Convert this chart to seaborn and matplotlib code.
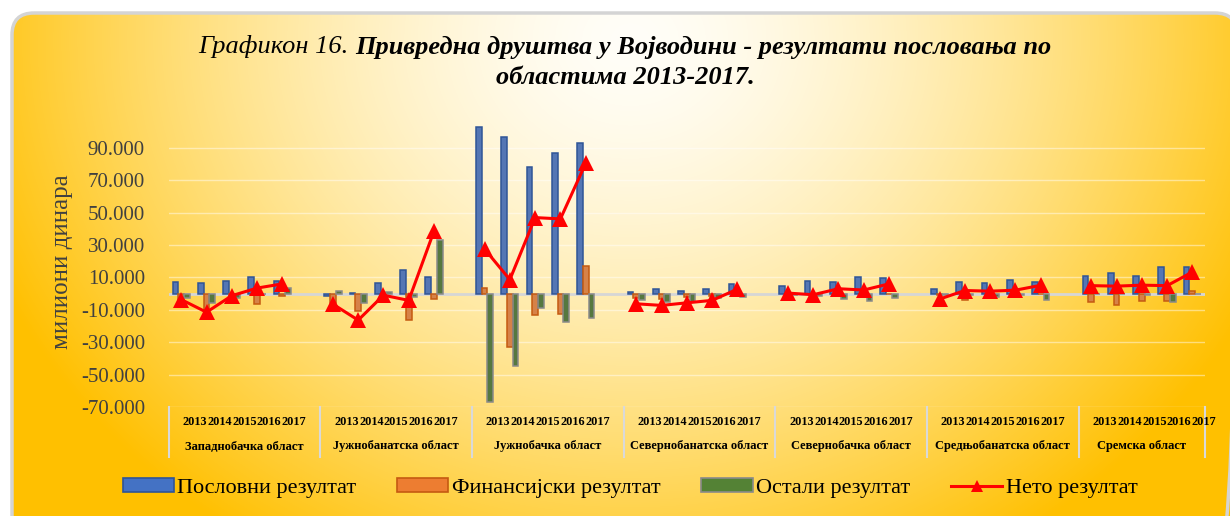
import numpy as np
import pandas as pd
import matplotlib
matplotlib.use("Agg")
import matplotlib.pyplot as plt
import seaborn as sns
from matplotlib.patches import FancyBboxPatch, Patch
from matplotlib.lines import Line2D
from matplotlib.ticker import FuncFormatter, FixedLocator

# ---------------- data (милиони динара) ----------------
regions = ["Западнобачка област", "Јужнобанатска област", "Јужнобачка област",
           "Севернобанатска област", "Севернобачка област", "Средњобанатска област",
           "Сремска област"]
years = ["2013", "2014", "2015", "2016", "2017"]

poslovni = [7000, 6300, 7700, 10000, 7900,
            -1500, 500, 6700, 14500, 10000,
            103000, 96400, 78300, 86600, 93100,
            1100, 2600, 1500, 2800, 5700,
            4800, 7900, 7300, 10400, 9800,
            2800, 7300, 6700, 8300, 6900,
            11000, 12400, 11000, 16200, 16600]
finansijski = [-7500, -10000, -3000, -6500, -1500,
               -6000, -10600, -5000, -16000, -3600,
               3600, -33200, -13300, -12700, 17000,
               -3000, -3600, -2000, -1500, -500,
               -1000, -3000, -1000, -1000, -500,
               -1000, -4000, -500, -500, -500,
               -5500, -7100, -4400, -4600, 1500]
ostali = [-2600, -6100, -3000, -500, 3500,
          1700, -5700, 1000, -2000, 33000,
          -66800, -44800, -9200, -17400, -15300,
          -4000, -5500, -5000, -3000, -2300,
          -1000, -1500, -3400, -4600, -3000,
          -1000, -1000, -2000, -1000, -4000,
          -500, -500, -1000, -5500, -500]
neto = [-3700, -11500, -1300, 3400, 6000,
        -6500, -16400, -1000, -4200, 38600,
        27500, 8600, 46900, 46100, 80400,
        -6300, -7300, -5700, -4200, 2700,
        300, -700, 3000, 2200, 6000,
        -3400, 1900, 1500, 2100, 5100,
        4900, 4600, 5200, 4900, 13300]

series_names = ["Пословни резултат", "Финансијски резултат", "Остали резултат"]
line_name = "Нето резултат"
title_part1 = "Графикон 16. "
title_part2 = "Привредна друштва у Војводини - резултати пословања по"
title_line2 = "областима 2013-2017."
ylabel = "милиони динара"
yticks = [-70000, -50000, -30000, -10000, 10000, 30000, 50000, 70000, 90000]

# ---------------- tables ----------------
rows = []
for gi, reg in enumerate(regions):
    for yi, yr in enumerate(years):
        idx = gi * 5 + yi
        pos = gi * 6 + yi
        for name, vals in zip(series_names, [poslovni, finansijski, ostali]):
            rows.append({"pos": pos, "region": reg, "year": yr, "series": name, "value": vals[idx]})
bars_df = pd.DataFrame(rows)
line_df = pd.DataFrame({
    "pos": [gi * 6 + yi for gi in range(len(regions)) for yi in range(len(years))],
    "region": [reg for reg in regions for _ in years],
    "value": neto,
})

# ---------------- figure ----------------
W, H = 1230, 516
fig = plt.figure(figsize=(W / 100, H / 100), dpi=100)
plt.rcParams["font.family"] = ["Liberation Serif", "DejaVu Serif"]

# background gradient with rounded border
bg = fig.add_axes([0, 0, 1, 1], zorder=-5)
bg.set_xlim(0, W)
bg.set_ylim(H, 0)
bg.axis("off")
yy, xx = np.mgrid[0:H, 0:W]
d = np.sqrt(((xx - 630) / 690.0) ** 2 + ((yy - 40) / 600.0) ** 2)
t = np.clip(d, 0, 1) ** 1.55
c0 = np.array([255, 254, 248]) / 255.0
c1 = np.array([255, 192, 0]) / 255.0
img = c0[None, None, :] * (1 - t[..., None]) + c1[None, None, :] * t[..., None]
im = bg.imshow(img, extent=(0, W, H, 0), interpolation="bilinear")
rect = FancyBboxPatch((12, 13), 1225, 560, boxstyle="round,pad=0,rounding_size=22",
                      transform=bg.transData, facecolor="none", edgecolor="#D4D4D4", lw=2.5)
bg.add_patch(rect)
im.set_clip_path(rect)

# main axes
left_px, right_px, bottom_px, top_px = 168.6, 1205.0, 407.0, 118.6
ax = fig.add_axes([left_px / W, 1 - bottom_px / H, (right_px - left_px) / W,
                   (bottom_px - top_px) / H])
ax.set_facecolor("none")

palette = {"Пословни резултат": "#4472C4", "Финансијски резултат": "#ED7D31",
           "Остали резултат": "#548235"}
edges = {"Пословни резултат": "#2F5597", "Финансијски резултат": "#C55A11",
         "Остали резултат": "#8A8A8A"}

for y in yticks:
    ax.axhline(y, color="white", alpha=0.45, lw=1.0, zorder=0)

sns.barplot(data=bars_df, x="pos", y="value", hue="series", hue_order=series_names,
            palette=palette, native_scale=True, width=0.68, dodge=True, gap=0,
            legend=False, ax=ax, zorder=2, errorbar=None)
for cont, name in zip(ax.containers, series_names):
    for p in cont:
        p.set_edgecolor(edges[name])
        p.set_linewidth(1.1)

ax.axhline(0, color="#D6D6D6", lw=2.0, zorder=1)

sns.lineplot(data=line_df, x="pos", y="value", units="region", estimator=None,
             color="#FF0000", lw=2.2, marker="^", markersize=12, markeredgewidth=0,
             ax=ax, zorder=4, legend=False)

ax.set_xlim(-0.5, 40.5)
ax.set_ylim(-70000, 108000)
ax.yaxis.set_major_locator(FixedLocator(yticks))
ax.yaxis.set_major_formatter(FuncFormatter(lambda v, p: f"{int(v):,}".replace(",", ".")))
ax.tick_params(axis="y", length=0, pad=17, labelsize=15, labelcolor="#404040")
ax.tick_params(axis="x", length=0, labelbottom=False)
ax.set_xlabel("")
ax.set_ylabel("")
for s in ax.spines.values():
    s.set_visible(False)

# category labels
trans = ax.get_xaxis_transform()
ah = bottom_px - top_px
y_year = -(422 - bottom_px) / ah
y_reg = -(446.5 - bottom_px) / ah
y_sep = -(457 - bottom_px) / ah
for gi, reg in enumerate(regions):
    c = gi * 6 + 2.5
    for yi, yr in enumerate(years):
        ax.text(c + (yi - 2) * 0.98, y_year, yr, transform=trans, ha="center", va="center",
                fontsize=8.8, fontweight="bold", color="black")
    rc = c if gi < len(regions) - 1 else gi * 6 + 2.0
    ax.text(rc, y_reg, reg, transform=trans, ha="center", va="center",
            fontsize=9, fontweight="bold", color="black")
seps = [gi * 6 - 0.5 for gi in range(len(regions))] + [40.5]
for sx in seps:
    ax.plot([sx, sx], [0, y_sep], transform=trans, color="#D9D9D9", lw=1.5, clip_on=False)

# y label
fig.text(62 / W, 1 - 262 / H, ylabel, rotation=90, ha="center", va="center",
         fontsize=18, color="#404040")

# title (two styles on line 1)
r = fig.canvas.get_renderer()
tfs = 19
t1 = fig.text(0, 1 - 47 / H, title_part1, fontsize=tfs, fontstyle="italic", va="center")
t2 = fig.text(0, 1 - 47 / H, title_part2, fontsize=tfs, fontstyle="italic",
              fontweight="bold", va="center")
w1 = t1.get_window_extent(r).width
w2 = t2.get_window_extent(r).width
x0 = 625 - (w1 + w2) / 2
t1.set_x(x0 / W)
t2.set_x((x0 + w1) / W)
fig.text(625 / W, 1 - 77 / H, title_line2, fontsize=tfs, fontstyle="italic",
         fontweight="bold", ha="center", va="center")

# legend
handles = [Patch(facecolor=palette[n], edgecolor=edges[n], lw=1.2) for n in series_names]
handles.append(Line2D([0], [0], color="#FF0000", lw=2.2, marker="^", markersize=9,
                      markeredgewidth=0))
labels = series_names + [line_name]
fig.legend(handles, labels, loc="center", bbox_to_anchor=(630 / W, 1 - 488 / H), ncol=4,
           frameon=False, fontsize=16, handlelength=2.3, handleheight=0.55,
           handletextpad=0.15, columnspacing=1.85)

fig.savefig("out.png", dpi=100)
